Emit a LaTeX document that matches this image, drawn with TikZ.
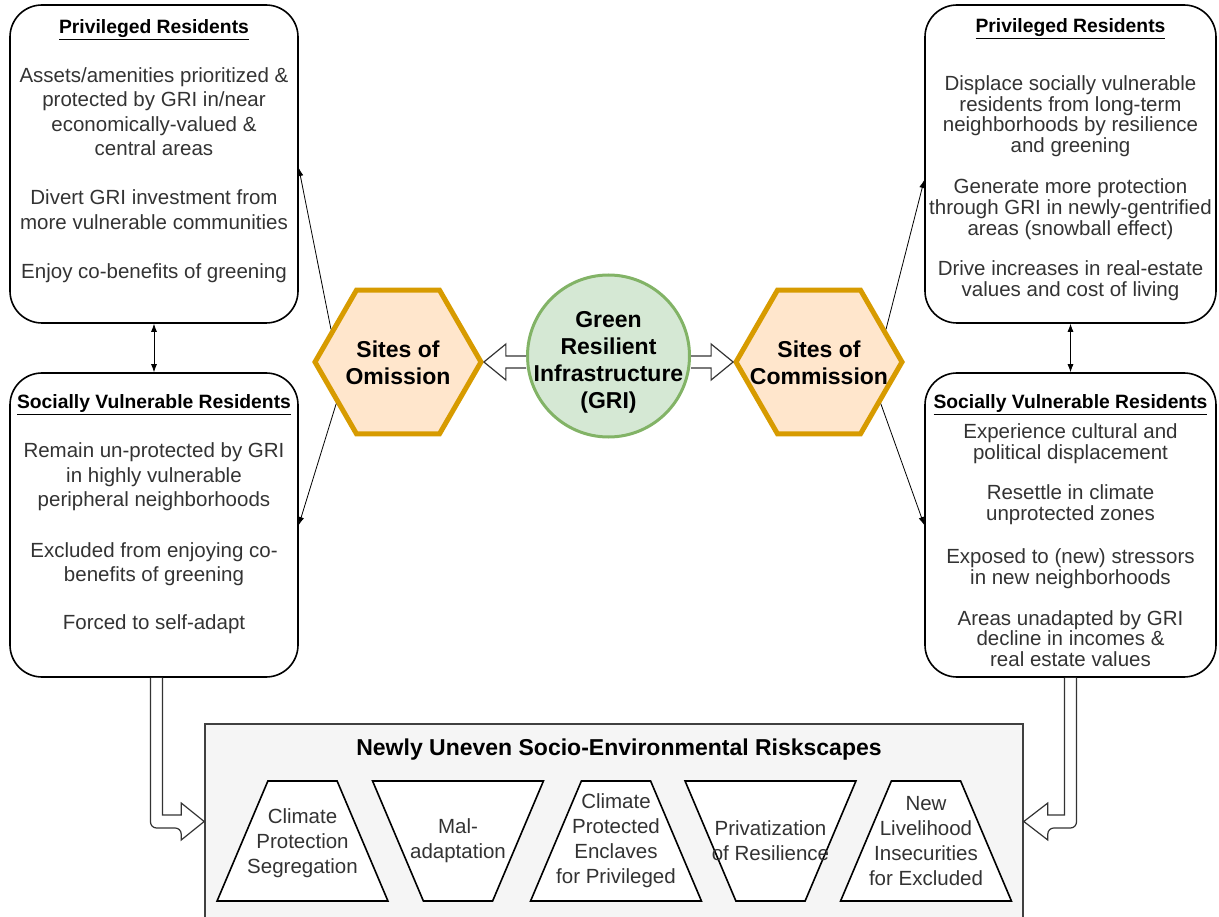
\documentclass[tikz,border=0pt]{standalone}
\usepackage{fontspec}
\setmainfont{Liberation Sans}
\usetikzlibrary{shapes.geometric,arrows.meta,calc}

\definecolor{sitefill}{HTML}{FFE6CC}
\definecolor{sitedraw}{HTML}{D79B00}
\definecolor{grifill}{HTML}{D5E8D4}
\definecolor{gridraw}{HTML}{82B366}
\definecolor{riskfill}{HTML}{F5F5F5}

% underlined box heading
\newcommand{\reshead}[1]{{\color{black}\fontsize{19.3}{24}\selectfont\bfseries\underline{#1}}}

\begin{document}
\begin{tikzpicture}[
    x=1pt, y=-1pt,
    resbox/.style={
        rectangle,
        draw=black,
        line width=1.6pt,
        rounded corners=32pt,
        minimum width=288pt,
        inner sep=0pt
    },
    restext/.style={
        anchor=north,
        align=center,
        inner sep=0pt,
        text=black!80,
        font=\fontsize{20.5}{24.5}\selectfont
    },
    restight/.style={
        restext,
        font=\fontsize{20.5}{20.8}\selectfont
    },
    site/.style={
        regular polygon,
        regular polygon sides=6,
        minimum size=166pt,
        inner sep=0pt,
        draw=sitedraw,
        fill=sitefill,
        line width=5pt
    },
    sitetext/.style={
        align=center,
        inner sep=0pt,
        font=\fontsize{23}{27}\selectfont\bfseries
    },
    gri/.style={
        circle,
        draw=gridraw,
        fill=grifill,
        line width=3pt,
        minimum size=162pt,
        inner sep=0pt
    },
    riskbox/.style={
        rectangle,
        draw=black!75,
        fill=riskfill,
        line width=1.6pt,
        minimum width=818pt,
        minimum height=195pt,
        inner sep=0pt
    },
    risktitle/.style={
        inner sep=0pt,
        font=\fontsize{23}{27}\selectfont\bfseries
    },
    riskshape/.style={
        trapezium,
        trapezium stretches=true,
        trapezium left angle=79.6,
        trapezium right angle=79.6,
        minimum width=171pt,
        minimum height=120pt,
        draw=black,
        fill=white,
        line width=1.6pt,
        inner sep=2pt
    },
    riskflip/.style={riskshape, shape border rotate=180},
    risklabel/.style={
        align=center,
        inner sep=0pt,
        text=black!80,
        font=\fontsize{20.5}{25}\selectfont
    },
    blockarrow/.style={draw=black!80, fill=white, line width=1.2pt},
    thinarrow/.style={-{Latex[length=8pt,width=6pt]}, line width=0.8pt},
    dblarrow/.style={{Latex[length=8pt,width=6pt]}-{Latex[length=8pt,width=6pt]}, line width=0.8pt}
]
\useasboundingbox (0,0) rectangle (1219,917);

% Riskscapes panel
\node[riskbox] (risk) at (614,821.5) {};
\node[risktitle] (risktitle) at ($(risk.north)+(5,26)$) {Newly Uneven Socio-Environmental Riskscapes};
\node[riskshape] (t1) at (302.5,841) {\strut};
\node[risklabel] (t1txt) at ($(t1)+(0,2)$) {Climate\\Protection\\Segregation};
\node[riskflip] (t2) at (458,841) {\strut};
\node[risklabel] (t2txt) at (t2) {Mal-\\adaptation};
\node[riskshape] (t3) at (616,841) {\strut};
\node[risklabel] (t3txt) at (t3) {Climate\\Protected\\Enclaves\\for Privileged};
\node[riskflip] (t4) at (770.5,841) {\strut};
\node[risklabel] (t4txt) at (t4) {Privatization\\of Resilience};
\node[riskshape] (t5) at (926,841) {\strut};
\node[risklabel] (t5txt) at (t5) {New\\Livelihood\\Insecurities\\for Excluded};

% Resident boxes, left
\node[resbox, minimum height=318pt] (prL) at (154,164) {};
\node[restext] (prLtxt) at ($(prL.north)+(0,15)$) {\reshead{Privileged Residents}\\[24.5pt]
    Assets/amenities prioritized \&\\protected by GRI in/near\\economically-valued \&\\central areas\\[24.5pt]
    Divert GRI investment from\\more vulnerable communities\\[24.5pt]
    Enjoy co-benefits of greening};
\node[resbox, minimum height=304pt] (svrL) at (154,525) {};
\node[restext] (svrLtxt) at ($(svrL.north)+(0,22)$) {\reshead{Socially Vulnerable Residents}\\[25pt]
    Remain un-protected by GRI\\in highly vulnerable\\peripheral neighborhoods\\[26pt]
    Excluded from enjoying co-\\benefits of greening\\[23.5pt]
    Forced to self-adapt};

% Resident boxes, right
\node[resbox, minimum width=291pt, minimum height=318pt] (prR) at (1070.5,164) {};
\node[restight] (prRtxt) at ($(prR.north)+(0,14)$) {\reshead{Privileged Residents}\\[36pt]
    Displace socially vulnerable\\residents from long-term\\neighborhoods by resilience\\and greening\\[20pt]
    Generate more protection\\through GRI in newly-gentrified\\areas (snowball effect)\\[20pt]
    Drive increases in real-estate\\values and cost of living};
\node[resbox, minimum width=291pt, minimum height=304pt] (svrR) at (1070.5,525) {};
\node[restight] (svrRtxt) at ($(svrR.north)+(0,22)$) {\reshead{Socially Vulnerable Residents}\\[8pt]
    Experience cultural and\\political displacement\\[20pt]
    Resettle in climate\\unprotected zones\\[22pt]
    Exposed to (new) stressors\\in new neighborhoods\\[20pt]
    Areas unadapted by GRI\\decline in incomes \&\\real estate values};

% Sites and GRI
\node[site] (omis) at (398,362) {};
\node[sitetext] (omistxt) at ($(omis)+(0,1)$) {Sites of\\Omission};
\node[site] (comm) at (819,362) {};
\node[sitetext] (commtxt) at ($(comm)+(0,1)$) {Sites of\\Commission};
\node[gri] (gri) at (608.5,356) {};
\node[sitetext] (gritxt) at (608.5,362) {Green\\Resilient\\Infrastructure\\(GRI)};

% GRI feeds both sites
\draw[blockarrow] ($(gri.west |- omis.east)+(0,-6)$) -- ($(omis.east)+(22,-6)$) -- ++(0,-12)
    -- (omis.east) -- ++(22,18) -- ++(0,-12) -- ($(gri.west |- omis.east)+(0,6)$);
\draw[blockarrow] ($(gri.east |- comm.west)+(0,-6)$) -- ($(comm.west)+(-22,-6)$) -- ++(0,-12)
    -- (comm.west) -- ++(-22,18) -- ++(0,-12) -- ($(gri.east |- comm.west)+(0,6)$);

% Sites to residents
\draw[thinarrow] (omis.154) -- ($(prL.east)+(0,4)$);
\draw[thinarrow] (omis.214) -- (svrL.east);
\draw[thinarrow] (comm.26) -- ($(prR.west)+(0,16)$);
\draw[thinarrow] (comm.326) -- (svrR.west);
\draw[dblarrow] (prL.south) -- (svrL.north);
\draw[dblarrow] (prR.south) -- (svrR.north);

% Residents into riskscapes
\coordinate (inL) at (risk.west);
\coordinate (inR) at (risk.east);
\draw[blockarrow] ($(svrL.south)+(-3.5,0)$) [rounded corners=6pt] |- ($(inL)+(-23,6.5)$) [sharp corners]
    -- ++(0,12) -- (inL) -- ++(-23,-18.5) -- ++(0,12) -| ($(svrL.south)+(8.5,0)$);
\draw[blockarrow] ($(svrR.south)+(6,0)$) [rounded corners=6pt] |- ($(inR)+(24,6.5)$) [sharp corners]
    -- ++(0,12) -- (inR) -- ++(24,-18.5) -- ++(0,12) -| ($(svrR.south)+(-6,0)$);

\end{tikzpicture}
\end{document}
